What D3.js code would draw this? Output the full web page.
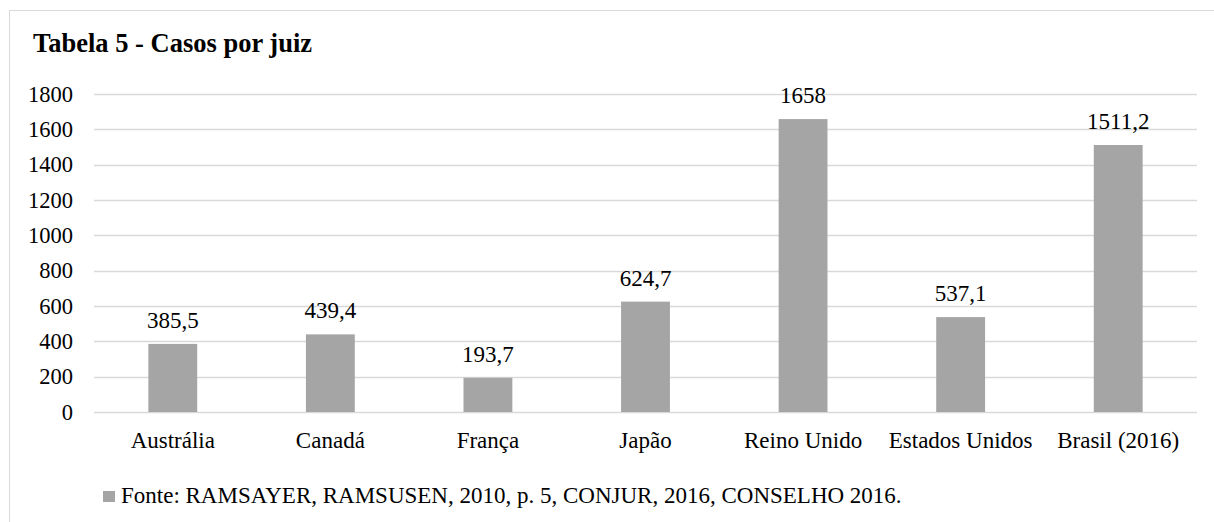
<!DOCTYPE html>
<html><head><meta charset="utf-8">
<script src="https://cdn.jsdelivr.net/npm/d3@7"></script>
<style>body{margin:0;background:#fff}svg{display:block}
svg text{font-family:"Liberation Serif","Times New Roman",Times,"Tinos","DejaVu Serif",serif;}</style>
</head><body>
<script>
const categories = ["Austrália","Canadá","França","Japão","Reino Unido","Estados Unidos","Brasil (2016)"];
const values = [385.5, 439.4, 193.7, 624.7, 1658, 537.1, 1511.2];
const valueLabels = ["385,5","439,4","193,7","624,7","1658","537,1","1511,2"];
const yTicks = [0,200,400,600,800,1000,1200,1400,1600,1800];
const title = "Tabela 5 - Casos por juiz";
const legendText = "Fonte: RAMSAYER, RAMSUSEN, 2010, p. 5, CONJUR, 2016, CONSELHO 2016.";

const W = 1214, H = 522;
const svg = d3.select("body").append("svg").attr("width", W).attr("height", H);

svg.append("rect").attr("x", 9.5).attr("y", 10.5).attr("width", W + 20).attr("height", H + 20)
  .attr("fill", "#fff").attr("stroke", "#d9d9d9").attr("stroke-width", 1);

svg.append("text").attr("x", 33).attr("y", 52)
  .attr("font-weight", "bold").attr("font-size", 26.5).attr("fill", "#000").text(title);

const x = d3.scaleBand().domain(categories).range([94, 1197]).paddingInner(0.69).paddingOuter(0.345);
const y = d3.scaleLinear().domain([0, 1800]).range([412, 94]);

const g = svg.append("g");
g.selectAll("line.grid").data(yTicks).join("line").attr("class", "grid")
  .attr("x1", 94).attr("x2", 1197).attr("y1", d => Math.round(y(d)) + 0.5).attr("y2", d => Math.round(y(d)) + 0.5)
  .attr("stroke", "#d9d9d9").attr("stroke-width", 1.3);

const yAxis = d3.axisLeft(y).tickValues(yTicks).tickSize(0).tickPadding(0).tickFormat(d3.format("d"));
const ya = svg.append("g").attr("transform", "translate(73,0)").call(yAxis);
ya.select(".domain").remove();
ya.attr("font-family", null);
ya.selectAll("text").attr("font-size", 22.5).attr("fill", "#000");

g.selectAll("rect.bar").data(values).join("rect").attr("class", "bar")
  .attr("x", (d, i) => x(categories[i])).attr("width", x.bandwidth())
  .attr("y", d => y(d)).attr("height", d => y(0) - y(d)).attr("fill", "#a5a5a5");

g.selectAll("text.val").data(values).join("text").attr("class", "val")
  .attr("x", (d, i) => x(categories[i]) + x.bandwidth() / 2).attr("y", d => y(d) - 16)
  .attr("text-anchor", "middle").attr("font-size", 23).attr("fill", "#000")
  .text((d, i) => valueLabels[i]);

const xAxis = d3.axisBottom(x).tickSize(0).tickPadding(0);
const xa = svg.append("g").attr("transform", "translate(0,412)").call(xAxis);
xa.select(".domain").remove();
xa.attr("font-family", null);
xa.selectAll("text").attr("dy", null).attr("y", 36).attr("font-size", 23).attr("fill", "#000");

svg.append("rect").attr("x", 103).attr("y", 491).attr("width", 12).attr("height", 11).attr("fill", "#a5a5a5");
svg.append("text").attr("x", 121).attr("y", 503).attr("font-size", 23)
  .attr("fill", "#000").text(legendText);
</script>
</body></html>
